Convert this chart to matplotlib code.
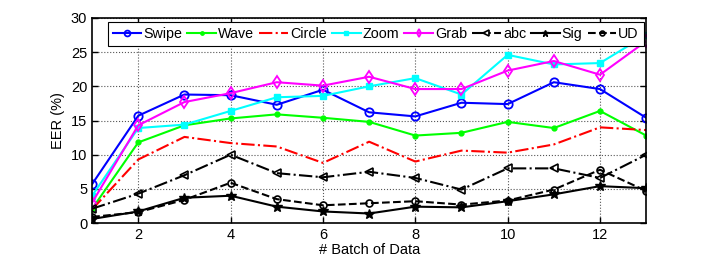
import matplotlib
matplotlib.use("Agg")
import matplotlib.pyplot as plt
import numpy as np

plt.rcParams['font.family'] = ['Liberation Sans', 'DejaVu Sans']

batches = list(range(1, 14))
swipe = [5.7, 15.7, 18.8, 18.7, 17.3, 19.5, 16.2, 15.6, 17.6, 17.4, 20.6, 19.6, 15.4]
wave = [2.1, 11.8, 14.3, 15.3, 15.9, 15.4, 14.8, 12.8, 13.2, 14.8, 13.9, 16.4, 12.8]
circle = [2.0, 9.3, 12.6, 11.7, 11.2, 8.8, 11.9, 9.0, 10.6, 10.3, 11.5, 14.0, 13.6]
zoom = [4.0, 13.9, 14.4, 16.4, 18.4, 18.6, 20.0, 21.2, 18.8, 24.6, 23.2, 23.4, 27.5]
grab = [3.0, 14.3, 17.7, 19.0, 20.6, 20.1, 21.4, 19.6, 19.6, 22.3, 23.7, 21.7, 26.6]
abc = [2.1, 4.3, 7.0, 10.0, 7.3, 6.7, 7.5, 6.6, 4.9, 8.0, 8.0, 6.6, 10.0]
sig = [0.6, 1.7, 3.7, 4.0, 2.4, 1.7, 1.4, 2.4, 2.3, 3.2, 4.2, 5.4, 5.1]
ud = [0.9, 1.6, 3.4, 5.9, 3.5, 2.6, 2.9, 3.2, 2.7, 3.3, 4.9, 7.8, 4.7]

xticks = [2, 4, 6, 8, 10, 12]
yticks = [0, 5, 10, 15, 20, 25, 30]

fig = plt.figure(figsize=(7.14, 2.6), dpi=100)
ax = fig.add_axes([0.129, 0.142, 0.776, 0.789])

lw = 1.5
ax.plot(batches, swipe, '-o', color='#0000ff', lw=lw, ms=6, mfc='none', mew=1.3, label='Swipe')
ax.plot(batches, wave, '-o', color='#00ff00', lw=lw, ms=3.5, label='Wave')
ax.plot(batches, circle, '-.', color='#ff0000', lw=lw, label='Circle')
ax.plot(batches, zoom, '-s', color='#00ffff', lw=lw, ms=4.5, label='Zoom')
ax.plot(batches, grab, '-d', color='#ff00ff', lw=lw, ms=6, mfc='none', mew=1.3, label='Grab')
ax.plot(batches, abc, '-.<', color='black', lw=lw, ms=6, mfc='none', mew=1.2, label='abc')
ax.plot(batches, sig, '-*', color='black', lw=lw, ms=7, label='Sig')
ax.plot(batches, ud, '--o', color='black', lw=lw, ms=5, mfc='none', mew=1.2, label='UD')

ax.set_xlim(1, 13)
ax.set_ylim(0, 30)
ax.set_xticks(xticks)
ax.set_yticks(yticks)
ax.grid(True, linestyle=':', color='#555555', linewidth=0.8)
ax.tick_params(direction='in', top=True, right=True, labelsize=10.5, length=4, width=1)
for s in ax.spines.values():
    s.set_linewidth(1.2)
ax.set_xlabel('# Batch of Data', fontsize=10.5, labelpad=1)
ax.set_ylabel('EER (%)', fontsize=10.5, labelpad=4)

leg = ax.legend(loc='upper center', bbox_to_anchor=(0.512, 0.982), ncol=8, fontsize=10.3,
                handlelength=2.0, handletextpad=0.15, columnspacing=0.35, borderpad=0.35,
                markerscale=0.7, fancybox=False, framealpha=1, edgecolor='black',
                borderaxespad=0)
leg.get_frame().set_linewidth(0.8)

fig.savefig('out.png', dpi=100)
